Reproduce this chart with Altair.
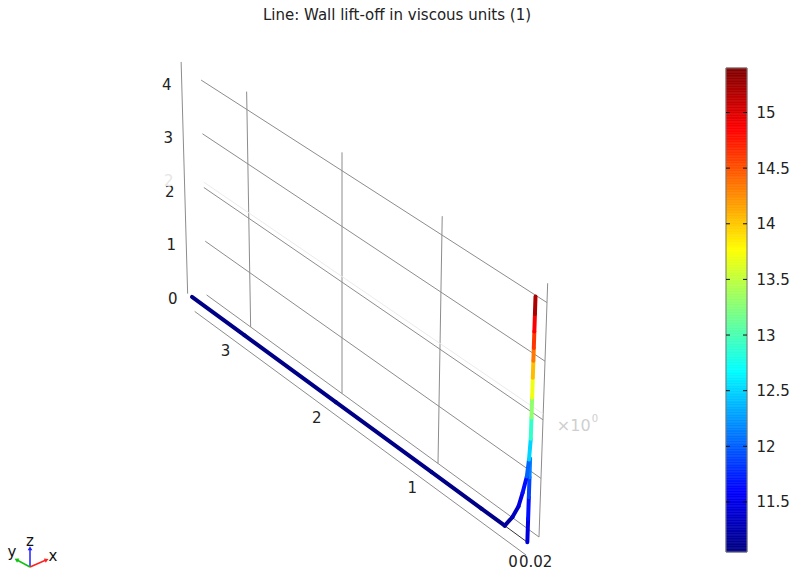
import altair as alt
import pandas as pd
import numpy as np

TITLE = "Line: Wall lift-off in viscous units (1)"

# ---------------- data ----------------
# colour bar
cbar_min, cbar_max = 11.05, 15.40
cbar_ticks = [11.5, 12, 12.5, 13, 13.5, 14, 14.5, 15]
jet = ["#00007f", "#0000ff", "#007fff", "#00ffff", "#7fff7f",
       "#ffff00", "#ff7f00", "#ff0000", "#7f0000"]

# axis ticks of the 3D box
x_ticks = [0, 0.02]
y_ticks = [0, 1, 2, 3]
z_ticks = [0, 1, 2, 3, 4]

# box extents
x_lo, x_hi = 0.0, 0.02
y_grid_max = 3.5
z_max = 4.33
y_axis_pos = 3.65
ghost_z = 2.1

# edge 1: along the floor, fillet, then up the wall
edge_y = [3.60, 3.00, 2.00, 1.00, 0.50, 0.27, 0.20, 0.145, 0.11, 0.075, 0.06,
          0.05, 0.05, 0.05, 0.05, 0.05, 0.05, 0.05, 0.05, 0.05]
edge_z = [0.00, 0.00, 0.00, 0.00, 0.00, 0.00, 0.235, 0.49, 0.77, 1.09, 1.40,
          1.77, 2.13, 2.47, 2.81, 3.10, 3.32, 3.60, 3.90, 4.20]
edge_v = [11.08, 11.08, 11.08, 11.08, 11.08, 11.10, 11.25, 11.40, 11.55, 11.75, 12.30,
          12.70, 13.10, 13.50, 13.90, 14.20, 14.50, 14.75, 15.00, 15.40]

# edge 2: lower part of the wall edge
wall_y = [0.05, 0.05, 0.05, 0.05, 0.05]
wall_z = [0.00, 0.40, 0.77, 1.11, 1.43]
wall_v = [11.35, 11.55, 11.75, 12.00, 12.30]

# ---------------- view (camera) ----------------
CAM = dict(X0=526.0, XU=13.0, XY=-89.6, XZ=2.0, XZY=-1.0,
           Y0=555.0, YU=-18.0, YY=-61.5, YZ=-58.6, C=0.026)


def project(x, y, z):
    u = (x - x_lo) / (x_hi - x_lo)
    w = 1 + CAM["C"] * y
    sx = (CAM["X0"] + CAM["XU"] * u + CAM["XY"] * y + z * (CAM["XZ"] + CAM["XZY"] * y)) / w
    sy = (CAM["Y0"] + CAM["YU"] * u + CAM["YY"] * y + CAM["YZ"] * z) / w
    return sx, sy


def seg_df(pairs, vals=None):
    rows = []
    for i, (a, b) in enumerate(pairs):
        ax, ay = project(*a)
        bx, by = project(*b)
        r = dict(x=ax, y=ay, x2=bx, y2=by)
        if vals is not None:
            r["v"] = vals[i]
        rows.append(r)
    return pd.DataFrame(rows)


# grid lines on the back wall, floor edge and z axis
grid_pairs = []
for z in z_ticks:
    grid_pairs.append(((x_hi, y_grid_max, z), (x_hi, 0, z)))
for y in y_ticks:
    grid_pairs.append(((x_hi, y, 0), (x_hi, y, z_max)))
grid_pairs.append(((x_lo, y_grid_max, 0), (x_lo, 0, 0)))
xm = (x_lo + x_hi) / 2
grid_pairs.append(((xm, y_axis_pos, 0), (xm, y_axis_pos, z_max)))
grid_df = seg_df(grid_pairs)

ghost_df = seg_df([((x_hi, y_grid_max, ghost_z), (x_hi, 0, ghost_z))])
floor_df = seg_df([((xm, edge_y[5], 0), (xm, wall_y[0], 0))])


def curve_pairs(ys, zs, vs):
    pairs, vals = [], []
    for i in range(len(ys) - 1):
        pairs.append(((xm, ys[i], zs[i]), (xm, ys[i + 1], zs[i + 1])))
        vals.append((vs[i] + vs[i + 1]) / 2)
    return pairs, vals


p1, v1 = curve_pairs(wall_y, wall_z, wall_v)
p2, v2 = curve_pairs(edge_y, edge_z, edge_v)
data_df = seg_df(p1 + p2, v1 + v2)

# tick labels
zl = []
for z in z_ticks:
    px, py = project(xm, y_axis_pos, z)
    zl.append(dict(x=px - 10, y=py + 5, t=str(z)))
zl_df = pd.DataFrame(zl)
gx, gy = project(xm, y_axis_pos, ghost_z)
ghost_lab = pd.DataFrame([dict(x=gx - 11, y=gy, t="2")])

yl = []
for y in y_ticks:
    px, py = project(x_lo, y, 0)
    yl.append(dict(x=px - 13, y=py + 7, t=str(y)))
yl_df = pd.DataFrame(yl)

bx, by = project(x_lo, 0, 0)
xl = []
for xv in x_ticks:
    if xv == 0:
        continue  # shares the "0" of the y axis
    xl.append(dict(x=bx - 13 + 6, y=by + 7, t=f"{xv:g}"))
xl_df = pd.DataFrame(xl)

mx, my = project(x_hi, 0, 1.9)
mult_df = pd.DataFrame([dict(x=mx + 14, y=my, t="×10")])
sup_df = pd.DataFrame([dict(x=mx + 49, y=my - 7, t="0")])

# ---------------- main panel ----------------
W, H = 700, 573
FONT = "DejaVu Sans"
sx = alt.Scale(domain=[0, W], nice=False, zero=False)
sy = alt.Scale(domain=[0, H], nice=False, zero=False, reverse=True)
cscale = alt.Scale(domain=[cbar_min + i * (cbar_max - cbar_min) / 8 for i in range(9)],
                   range=jet, interpolate="rgb")


def rules(df, **mk):
    return alt.Chart(df).mark_rule(**mk).encode(
        x=alt.X("x:Q", scale=sx, axis=None),
        y=alt.Y("y:Q", scale=sy, axis=None),
        x2="x2:Q", y2="y2:Q")


def texts(df, **mk):
    return alt.Chart(df).mark_text(font=FONT, **mk).encode(
        x=alt.X("x:Q", scale=sx, axis=None),
        y=alt.Y("y:Q", scale=sy, axis=None),
        text="t:N")


grid_layer = rules(grid_df, color="#8c8c8c", strokeWidth=1)
ghost_layer = rules(ghost_df, color="#ebebeb", strokeWidth=1)
floor_layer = rules(floor_df, color="#333333", strokeWidth=1)
data_layer = alt.Chart(data_df).mark_rule(strokeWidth=4, strokeCap="round").encode(
    x=alt.X("x:Q", scale=sx, axis=None),
    y=alt.Y("y:Q", scale=sy, axis=None),
    x2="x2:Q", y2="y2:Q",
    color=alt.Color("v:Q", scale=cscale, legend=None))

zlab = texts(zl_df, align="right", baseline="middle", fontSize=15, color="#222222")
glab = texts(ghost_lab, align="right", baseline="middle", fontSize=15, color="#e6e6e6")
ylab = texts(yl_df, align="center", baseline="middle", fontSize=15, color="#222222")
xlab = texts(xl_df, align="left", baseline="middle", fontSize=15, color="#222222")
mlab = texts(mult_df, align="left", baseline="middle", fontSize=16, color="#cfcfcf")
slab = texts(sup_df, align="left", baseline="middle", fontSize=10, color="#cfcfcf")

title_layer = alt.Chart(pd.DataFrame([{"t": TITLE}])).mark_text(
    font=FONT, fontSize=15, align="center", baseline="middle", color="#222222"
).encode(x=alt.value(397), y=alt.value(15), text="t:N")

# axis triad (decoration)
triad_df = pd.DataFrame([
    dict(x=30, y=567, x2=30, y2=549, c="z", ang=0),
    dict(x=30, y=567, x2=46, y2=560, c="x", ang=66),
    dict(x=30, y=567, x2=17, y2=560, c="y", ang=298),
])
tcol = alt.Scale(domain=["x", "y", "z"], range=["#ff2020", "#10c010", "#2020ff"])
triad_lines = alt.Chart(triad_df).mark_rule(strokeWidth=1.5).encode(
    x=alt.X("x:Q", scale=sx, axis=None), y=alt.Y("y:Q", scale=sy, axis=None),
    x2="x2:Q", y2="y2:Q", color=alt.Color("c:N", scale=tcol, legend=None))
triad_heads = alt.Chart(triad_df).mark_point(shape="triangle", filled=True, size=22, opacity=1).encode(
    x=alt.X("x2:Q", scale=sx, axis=None), y=alt.Y("y2:Q", scale=sy, axis=None),
    angle=alt.Angle("ang:Q", scale=None),
    color=alt.Color("c:N", scale=tcol, legend=None))
triad_lab_df = pd.DataFrame([dict(x=30, y=541, t="z"), dict(x=53, y=556, t="x"),
                             dict(x=12, y=552, t="y")])
triad_labs = texts(triad_lab_df, align="center", baseline="middle", fontSize=15, color="#111111")

main = alt.layer(grid_layer, ghost_layer, floor_layer, data_layer, zlab, glab, ylab, xlab,
                 mlab, slab, title_layer, triad_lines, triad_heads,
                 triad_labs).properties(width=W, height=H)

# ---------------- colour bar panel ----------------
BAR_TOP, BAR_BOTTOM, BAR_W = 68, 552, 21
k = (BAR_BOTTOM - BAR_TOP) / (cbar_max - cbar_min)
bscale = alt.Scale(domain=[cbar_min - (H - BAR_BOTTOM) / k, cbar_max + BAR_TOP / k],
                   nice=False, zero=False)
baxis = alt.Axis(orient="right", values=cbar_ticks, format="~g", ticks=False, domain=False,
                 grid=False, labelFontSize=15, labelFont=FONT, labelColor="#222222",
                 labelPadding=9, title=None)

vals = np.linspace(cbar_min, cbar_max, 301)
slices = pd.DataFrame(dict(v=vals[:-1], v2=vals[1:], m=(vals[:-1] + vals[1:]) / 2))
bar_fill = alt.Chart(slices).mark_rect(strokeWidth=0.6).encode(
    y=alt.Y("v:Q", scale=bscale, axis=baxis), y2="v2:Q",
    x=alt.value(0), x2=alt.value(BAR_W),
    color=alt.Color("m:Q", scale=cscale, legend=None),
    stroke=alt.Stroke("m:Q", scale=cscale, legend=None))
bar_border = alt.Chart(pd.DataFrame([dict(a=cbar_min, b=cbar_max)])).mark_rect(
    fillOpacity=0, stroke="#7a7a7a", strokeWidth=1).encode(
    y=alt.Y("a:Q", scale=bscale, axis=baxis), y2="b:Q",
    x=alt.value(0), x2=alt.value(BAR_W))
tick_df = pd.DataFrame(dict(v=cbar_ticks))
ticks_l = alt.Chart(tick_df).mark_rule(color="#111111", strokeWidth=1).encode(
    y=alt.Y("v:Q", scale=bscale, axis=baxis), x=alt.value(0), x2=alt.value(4))
ticks_r = alt.Chart(tick_df).mark_rule(color="#111111", strokeWidth=1).encode(
    y=alt.Y("v:Q", scale=bscale, axis=baxis), x=alt.value(BAR_W - 4), x2=alt.value(BAR_W))

bar = alt.layer(bar_fill, bar_border, ticks_l, ticks_r).properties(width=BAR_W, height=H)

chart = alt.hconcat(main, bar, spacing=25).properties(
    padding=0, background="white"
).configure_view(stroke=None).resolve_scale(color="shared")

chart.save("out.html", embed_options={"renderer": "svg", "actions": False})
